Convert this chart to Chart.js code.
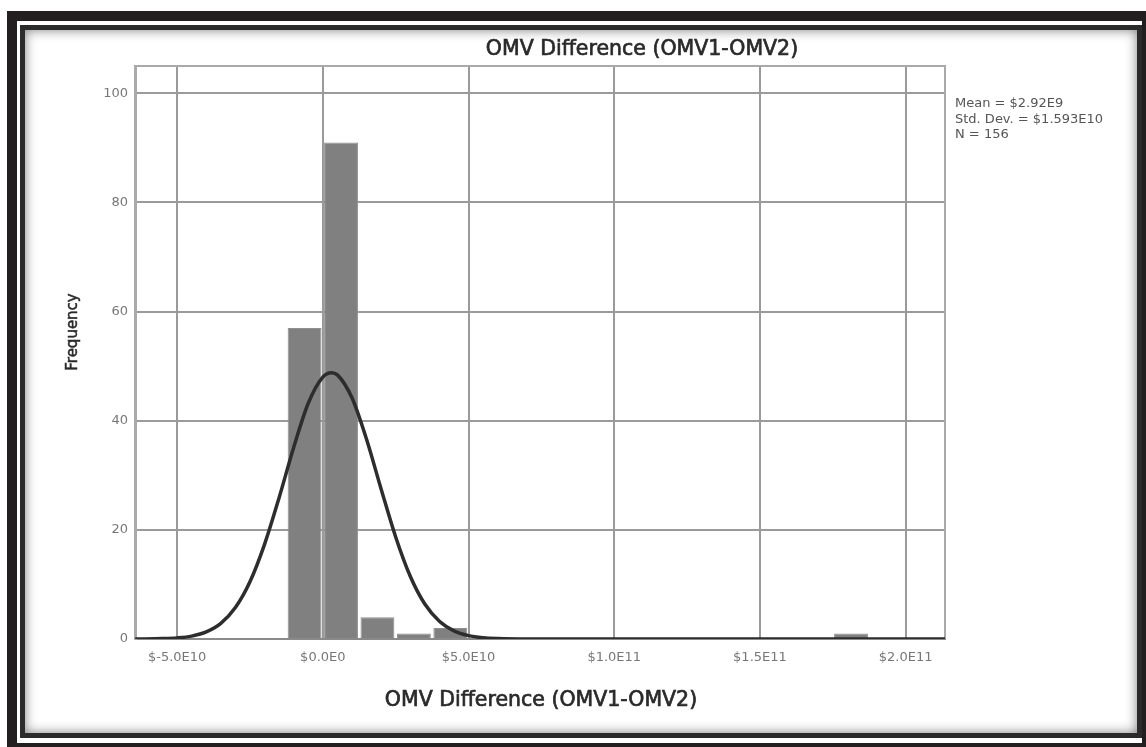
<!DOCTYPE html>
<html><head><meta charset="utf-8">
<script src="https://cdn.jsdelivr.net/npm/chart.js@4/dist/chart.umd.min.js"></script>
<style>
html,body{margin:0;padding:0;width:1146px;height:747px;overflow:hidden;background:#fff;}
#outer{position:absolute;left:7px;top:11px;width:1145px;height:742px;box-sizing:border-box;border:10px solid #231f20;background:#fff;}
#inner{position:absolute;left:20px;top:25px;width:1122px;height:713px;box-sizing:border-box;border:5px solid #2b2b2b;box-shadow:inset 0 0 12px rgba(0,0,0,0.5);background:#fff;}
#c{position:absolute;left:0;top:0;}
</style></head>
<body>
<div id="outer"></div><div id="inner"></div>
<canvas id="c" width="1146" height="747"></canvas>
<script>
const chartTitle = 'OMV Difference (OMV1-OMV2)';
const xAxisTitle = 'OMV Difference (OMV1-OMV2)';
const yAxisTitle = 'Frequency';
const statsLines = ['Mean = $2.92E9', 'Std. Dev. = $1.593E10', 'N = 156'];

// histogram bins (centres, $) and frequencies
const binCenters = [-6.25e9, 6.25e9, 1.875e10, 3.125e10, 4.375e10, 1.8125e11];
const binCounts  = [57, 91, 4, 1, 2, 1];

// fitted normal curve
const curveX = [-6.44e10, -5.5e10, -5.0e10, -4.5e10, -4.0e10, -3.5e10, -3.0e10, -2.5e10, -2.0e10, -1.5e10, -1.0e10, -0.5e10, 0, 0.3e10, 0.5e10, 1.0e10, 1.5e10, 2.0e10, 2.5e10, 3.0e10, 3.5e10, 4.0e10, 4.5e10, 5.0e10, 5.5e10, 6.0e10, 7.0e10, 2.135e11];
const curveY = [0, 0.07, 0.2, 0.53, 1.3, 2.87, 5.77, 10.5, 17.35, 25.9, 35.1, 43.2, 48.0, 48.8, 48.4, 44.2, 36.6, 27.5, 18.7, 11.5, 6.4, 3.25, 1.5, 0.62, 0.23, 0.08, 0, 0];

const xTickValues = [-5e10, 0, 5e10, 1e11, 1.5e11, 2e11];
const xTickLabels = ['$-5.0E10', '$0.0E0', '$5.0E10', '$1.0E11', '$1.5E11', '$2.0E11'];
const yTickValues = [0, 20, 40, 60, 80, 100];
const xMin = -6.445e10, xMax = 2.135e11, yMin = 0, yMax = 105;

Chart.defaults.font.family = "'DejaVu Sans', sans-serif";

function heavyText(ctx, text, x, y) {
  ctx.fillText(text, x, y);
  ctx.strokeText(text, x, y);
}

const annot = {
  id: 'annot',
  beforeDatasetsDraw(chart) {
    const {ctx, chartArea: a} = chart;
    ctx.save();
    ctx.strokeStyle = '#a9a9a9';
    ctx.lineWidth = 2;
    ctx.beginPath();
    ctx.moveTo(a.left, a.top);
    ctx.lineTo(a.right, a.top);
    ctx.lineTo(a.right, a.bottom);
    ctx.stroke();
    ctx.restore();
  },
  afterDraw(chart) {
    const {ctx, chartArea: a} = chart;
    ctx.save();
    ctx.fillStyle = '#2a2a2a';
    ctx.strokeStyle = '#2a2a2a';
    ctx.lineWidth = 0.7;
    ctx.textAlign = 'center';
    ctx.textBaseline = 'middle';
    ctx.font = "20.5px 'DejaVu Sans'";
    heavyText(ctx, chartTitle, 642, 50);
    heavyText(ctx, xAxisTitle, (a.left + a.right) / 2 + 1, 701);
    // y axis title
    ctx.save();
    ctx.translate(73, 332);
    ctx.rotate(-Math.PI / 2);
    ctx.font = "15px 'DejaVu Sans'";
    ctx.lineWidth = 0.5;
    heavyText(ctx, yAxisTitle, 0, 0);
    ctx.restore();
    // stats
    ctx.textAlign = 'left';
    ctx.fillStyle = '#555';
    ctx.font = "13px 'DejaVu Sans'";
    statsLines.forEach((t, i) => ctx.fillText(t, 955, 104 + i * 15.5));
    ctx.restore();
  }
};

new Chart(document.getElementById('c'), {
  type: 'bar',
  data: {
    datasets: [
      {
        type: 'line',
        data: curveX.map((x, i) => ({x, y: curveY[i]})),
        borderColor: '#2d2d2d',
        borderWidth: 3.5,
        pointRadius: 0,
        fill: false,
        cubicInterpolationMode: 'monotone'
      },
      {
        type: 'bar',
        data: binCenters.map((x, i) => ({x, y: binCounts[i]})),
        backgroundColor: '#808080',
        borderColor: '#8f8f8f',
        borderWidth: 1,
        barPercentage: 0.93,
        categoryPercentage: 1
      }
    ]
  },
  options: {
    responsive: false,
    animation: false,
    events: [],
    layout: {padding: {left: 0, top: 66, right: 201, bottom: 0}},
    plugins: {legend: {display: false}, tooltip: {enabled: false}, title: {display: false}},
    scales: {
      x: {
        type: 'linear', min: xMin, max: xMax, offset: false,
        afterBuildTicks: s => { s.ticks = xTickValues.map(v => ({value: v})); },
        afterFit: s => { s.height = 108; },
        ticks: {
          callback: (v, i) => xTickLabels[i],
          font: {size: 13}, color: '#777', padding: 11, maxRotation: 0, autoSkip: false
        },
        grid: {color: '#9a9a9a', lineWidth: 2, drawTicks: false, offset: false},
        border: {color: '#8a8a8a', width: 2},
        title: {display: false}
      },
      y: {
        type: 'linear', min: yMin, max: yMax,
        afterBuildTicks: s => { s.ticks = yTickValues.map(v => ({value: v})); },
        afterFit: s => { s.width = 135; },
        ticks: {callback: v => String(v), font: {size: 13}, color: '#777', padding: 7},
        grid: {color: '#9a9a9a', lineWidth: 2, drawTicks: false},
        border: {color: '#aaaaaa', width: 3}
      }
    }
  },
  plugins: [annot]
});
</script>
</body></html>
